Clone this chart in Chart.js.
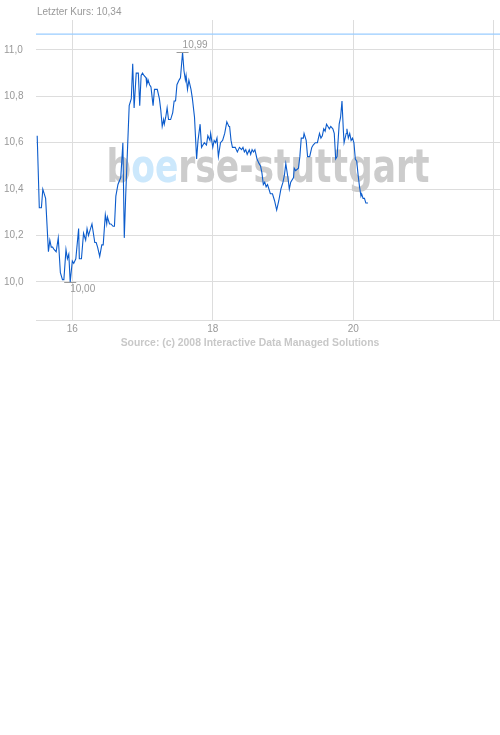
<!DOCTYPE html>
<html>
<head>
<meta charset="utf-8">
<script src="https://cdn.jsdelivr.net/npm/chart.js@4.4.1/dist/chart.umd.min.js"></script>
<style>
    body { margin: 0; background: #fff; }
    #wrap { width: 500px; height: 350px; }
</style>
</head>
<body>
<div id="wrap"><canvas id="chart" width="500" height="350"></canvas></div>
<script>
// time axis in days of the month, one entry per price
const days = [
    15.50, 15.53, 15.56, 15.58, 15.62, 15.66, 15.68, 15.70, 15.72, 15.74,
    15.77, 15.80, 15.83, 15.86, 15.88, 15.91, 15.93, 15.95, 15.97, 16.00,
    16.02, 16.05, 16.09, 16.10, 16.13, 16.16, 16.19, 16.21, 16.23, 16.25,
    16.28, 16.32, 16.34, 16.36, 16.39, 16.42, 16.44, 16.47, 16.49, 16.50,
    16.53, 16.55, 16.58, 16.60, 16.62, 16.65, 16.69, 16.72, 16.74, 16.76,
    16.81, 16.84, 16.86, 16.88, 16.91, 16.94, 16.96, 16.98, 17.00, 17.02,
    17.05, 17.06, 17.08, 17.10, 17.12, 17.15, 17.17, 17.21, 17.24, 17.26,
    17.28, 17.30, 17.31, 17.33, 17.35, 17.37, 17.40, 17.43, 17.45, 17.47,
    17.49, 17.52, 17.54, 17.57, 17.59, 17.61, 17.62, 17.64, 17.66, 17.69,
    17.71, 17.74, 17.77, 17.79, 17.82, 17.84, 17.86, 17.88, 17.91, 17.93,
    17.96, 17.97, 18.00, 18.02, 18.04, 18.06, 18.08, 18.11, 18.14, 18.17,
    18.20, 18.23, 18.24, 18.26, 18.28, 18.32, 18.35, 18.38, 18.41, 18.43,
    18.45, 18.47, 18.49, 18.52, 18.54, 18.56, 18.58, 18.60, 18.63, 18.66,
    18.68, 18.70, 18.72, 18.74, 18.76, 18.78, 18.80, 18.82, 18.85, 18.88,
    18.91, 18.94, 18.97, 19.00, 19.02, 19.04, 19.07, 19.09, 19.11, 19.15,
    19.16, 19.18, 19.22, 19.24, 19.26, 19.29, 19.30, 19.33, 19.35, 19.38,
    19.41, 19.43, 19.46, 19.49, 19.52, 19.54, 19.56, 19.58, 19.60, 19.62,
    19.64, 19.66, 19.68, 19.71, 19.73, 19.75, 19.77, 19.80, 19.82, 19.84,
    19.86, 19.87, 19.90, 19.91, 19.93, 19.95, 19.97, 19.99, 20.01, 20.03,
    20.05, 20.07, 20.09, 20.11, 20.12, 20.14, 20.16, 20.18, 20.21
];
const prices = [
    10.63, 10.32, 10.32, 10.40, 10.36, 10.13, 10.18, 10.15, 10.15, 10.14,
    10.13, 10.19, 10.04, 10.01, 10.01, 10.14, 10.10, 10.12, 10.00, 10.09,
    10.08, 10.10, 10.23, 10.10, 10.10, 10.21, 10.18, 10.23, 10.20, 10.22,
    10.25, 10.17, 10.17, 10.15, 10.11, 10.16, 10.16, 10.29, 10.25, 10.28,
    10.25, 10.25, 10.24, 10.24, 10.37, 10.42, 10.45, 10.60, 10.19, 10.37,
    10.76, 10.79, 10.94, 10.75, 10.90, 10.90, 10.76, 10.89, 10.90, 10.89,
    10.88, 10.85, 10.87, 10.85, 10.84, 10.76, 10.83, 10.83, 10.79, 10.74,
    10.67, 10.70, 10.68, 10.71, 10.75, 10.70, 10.70, 10.73, 10.78, 10.78,
    10.85, 10.87, 10.88, 10.99, 10.91, 10.87, 10.89, 10.83, 10.87, 10.83,
    10.79, 10.71, 10.53, 10.61, 10.68, 10.58, 10.59, 10.60, 10.59, 10.63,
    10.61, 10.64, 10.58, 10.61, 10.60, 10.62, 10.54, 10.60, 10.61, 10.64,
    10.69, 10.67, 10.67, 10.61, 10.58, 10.58, 10.56, 10.58, 10.57, 10.58,
    10.56, 10.57, 10.55, 10.57, 10.55, 10.57, 10.56, 10.57, 10.53, 10.51,
    10.50, 10.47, 10.42, 10.43, 10.41, 10.42, 10.40, 10.38, 10.38, 10.35,
    10.31, 10.35, 10.40, 10.43, 10.46, 10.51, 10.45, 10.40, 10.43, 10.45,
    10.49, 10.48, 10.49, 10.54, 10.62, 10.62, 10.64, 10.61, 10.54, 10.54,
    10.58, 10.59, 10.60, 10.60, 10.64, 10.62, 10.63, 10.66, 10.65, 10.68,
    10.67, 10.66, 10.67, 10.66, 10.64, 10.53, 10.54, 10.68, 10.71, 10.78,
    10.65, 10.60, 10.64, 10.66, 10.62, 10.64, 10.61, 10.62, 10.60, 10.53,
    10.52, 10.46, 10.41, 10.37, 10.38, 10.36, 10.36, 10.34, 10.34
];
const refLevel = 11.068;      // light blue line at the top
const xTicks = [16, 18, 20, 22];
const xTickLabels = ['16', '18', '20', ''];
const yTicks = [10.0, 10.2, 10.4, 10.6, 10.8, 11.0];
const xRange = [15.483, 22.09];
const yRange = [9.836, 11.129];
const lastLabel = 'Letzter Kurs: 10,34';
const sourceLabel = 'Source: (c) 2008 Interactive Data Managed Solutions';

const fmt = (v, d) => v.toFixed(d).replace('.', ',');

Chart.defaults.font.family = '"Liberation Sans", Arial, sans-serif';

// watermark behind the line
const watermark = {
    id: 'watermark',
    beforeDatasetsDraw(chart) {
        const { ctx, chartArea } = chart;
        const parts = [['b', '#cccccc'], ['oe', '#cce8fc'], ['rse-stuttgart', '#cccccc']];
        ctx.save();
        ctx.font = 'bold 46px "DejaVu Sans"';
        const total = parts.reduce((w, p) => w + ctx.measureText(p[0]).width, 0);
        const target = 323;
        const sx = target / total;
        const cx = (chartArea.left + chartArea.right) / 2;
        const cy = (chartArea.top + chartArea.bottom) / 2;
        ctx.translate(cx - target / 2, cy + 12);
        ctx.scale(sx, 1);
        ctx.textBaseline = 'alphabetic';
        let x = 0;
        parts.forEach(([t, c]) => {
            ctx.fillStyle = c;
            ctx.fillText(t, x, 0);
            x += ctx.measureText(t).width;
        });
        ctx.restore();
    }
};

// header, footer and min/max labels
const labels = {
    id: 'labels',
    afterDraw(chart) {
        const { ctx, scales } = chart;
        const xs = scales.x, ys = scales.y;
        ctx.save();
        ctx.fillStyle = '#999';
        ctx.font = '10px "Liberation Sans"';
        ctx.textBaseline = 'middle';
        ctx.textAlign = 'left';
        ctx.fillText(lastLabel, 37, 12);

        const hi = prices.indexOf(Math.max(...prices));
        const lo = prices.indexOf(Math.min(...prices));
        [[hi, -1], [lo, 1]].forEach(([i, dir]) => {
            const px = xs.getPixelForValue(days[i]);
            const py = Math.round(ys.getPixelForValue(prices[i])) + 0.5;
            ctx.strokeStyle = '#999';
            ctx.lineWidth = 1;
            ctx.beginPath();
            ctx.moveTo(px - 6, py);
            ctx.lineTo(px + 6, py);
            ctx.stroke();
            ctx.fillStyle = '#999';
            ctx.fillText(fmt(prices[i], 2), px, py + dir * 7);
        });

        ctx.font = 'bold 10.4px "Liberation Sans"';
        ctx.fillStyle = '#c8c8c8';
        ctx.textAlign = 'center';
        ctx.fillText(sourceLabel, 250, 343);
        ctx.restore();
    }
};

new Chart(document.getElementById('chart'), {
    type: 'line',
    data: {
        datasets: [{
            data: days.map((d, i) => ({ x: d, y: prices[i] })),
            borderColor: '#0c5ccc',
            borderWidth: 1.1,
            pointRadius: 0,
            tension: 0,
            fill: false
        }, {
            data: [{ x: xRange[0], y: refLevel }, { x: xRange[1], y: refLevel }],
            borderColor: '#99ccff',
            borderWidth: 1.2,
            pointRadius: 0,
            fill: false
        }]
    },
    options: {
        responsive: false,
        animation: false,
        devicePixelRatio: 1,
        layout: { padding: { top: 20, right: 0, left: 4, bottom: 0 } },
        plugins: { legend: { display: false }, tooltip: { enabled: false } },
        scales: {
            x: {
                type: 'linear',
                min: xRange[0],
                max: xRange[1],
                afterBuildTicks: s => { s.ticks = xTicks.map(v => ({ value: v })); },
                afterFit: s => { s.height = 30; },
                grid: { color: '#dddddd', drawTicks: false },
                border: { color: '#dddddd' },
                ticks: {
                    padding: 3,
                    color: '#999',
                    font: { size: 10 },
                    maxRotation: 0,
                    callback: (v, i) => xTickLabels[i]
                }
            },
            y: {
                min: yRange[0],
                max: yRange[1],
                afterBuildTicks: s => { s.ticks = yTicks.map(v => ({ value: v })); },
                afterFit: s => { s.width = 32; },
                grid: { color: '#dddddd', drawTicks: false },
                border: { display: false },
                ticks: {
                    crossAlign: 'far',
                    padding: 0,
                    color: '#999',
                    font: { size: 10 },
                    callback: v => fmt(v, 1)
                }
            }
        }
    },
    plugins: [watermark, labels]
});
</script>
</body>
</html>
